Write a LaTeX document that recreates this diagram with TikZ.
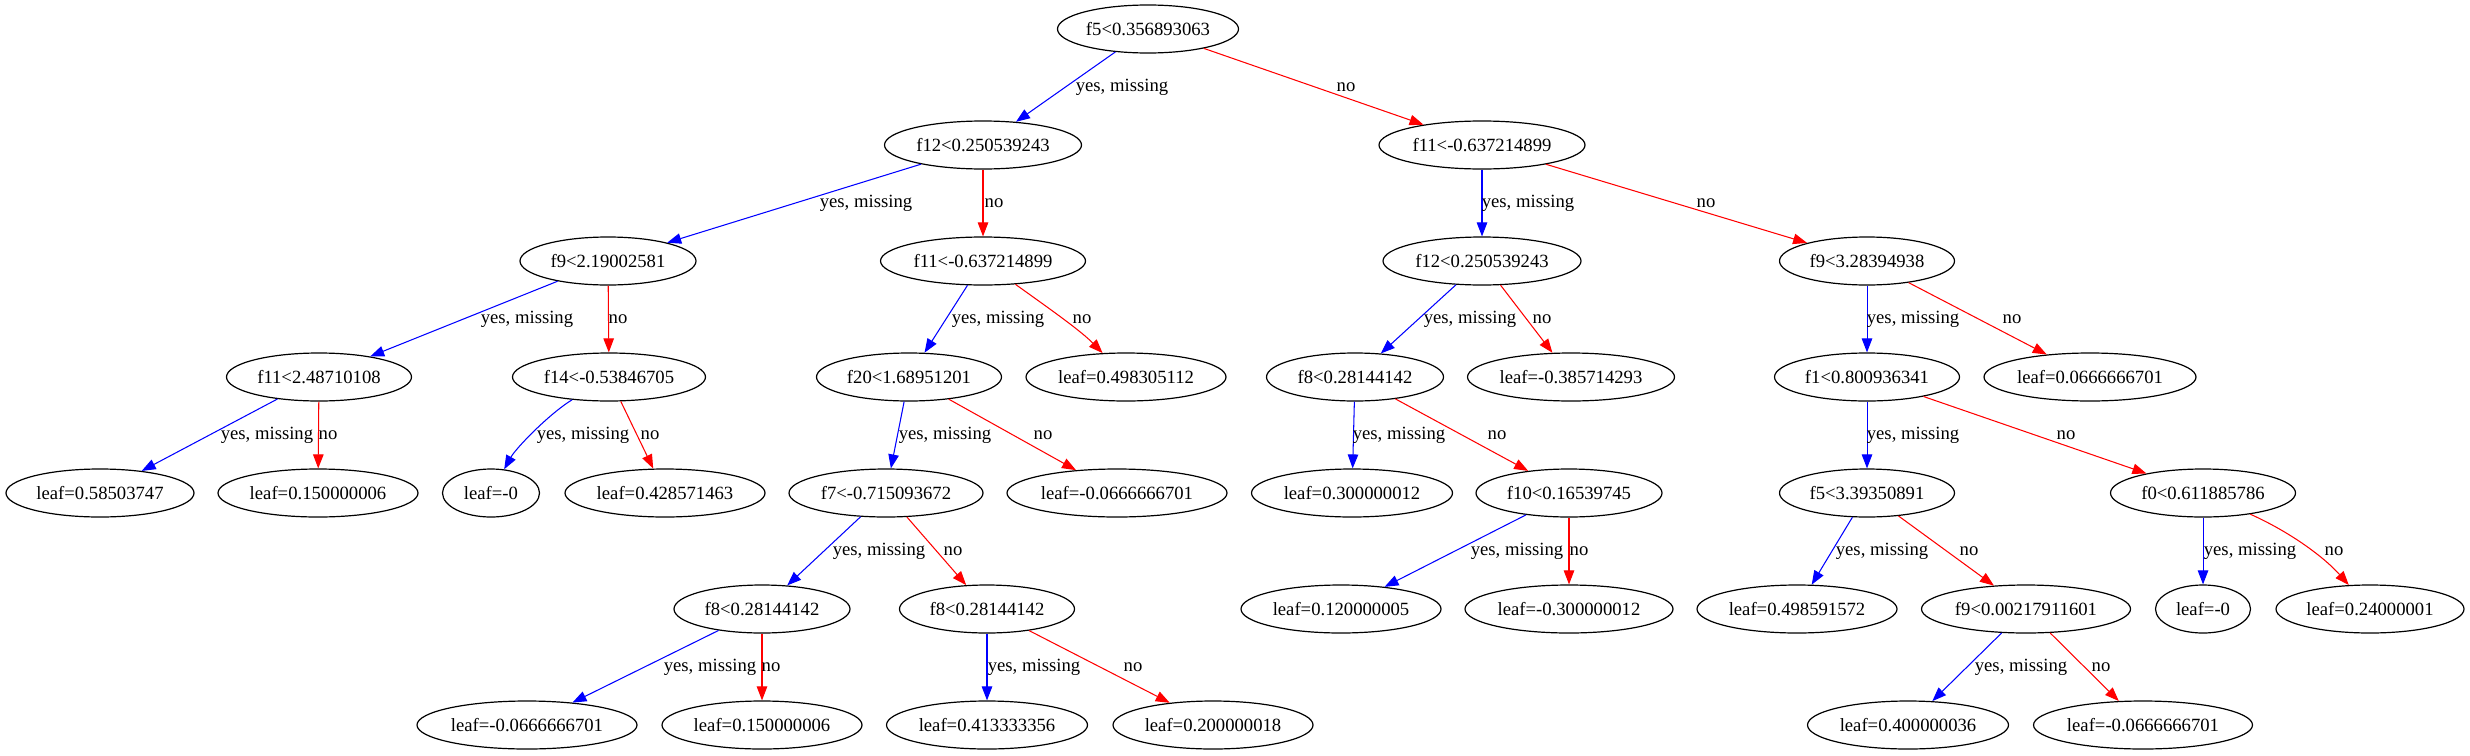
\documentclass[tikz,border=0pt]{standalone}
\usepackage{fontspec}
\setmainfont{Liberation Serif}
\usetikzlibrary{shapes.geometric,arrows.meta}
\tikzset{
  nd/.style={draw, ellipse, line width=1.2pt, minimum height=48pt, inner sep=0pt,
             font=\fontsize{18.67}{22}\selectfont},
  lbl/.style={inner sep=0pt, font=\fontsize{18.67}{22}\selectfont},
  edge/.style={line width=1.05pt, -{Triangle[length=14pt,width=10.5pt]}},
  yesedge/.style={edge, blue},
  noedge/.style={edge, red}
}
\begin{document}
\begin{tikzpicture}[x=1pt,y=-1pt]
\useasboundingbox (0,0) rectangle (2470,755);
% level 0
\node[nd, minimum width=181pt] (n0) at (1148,29) {f5<0.356893063};
% level 1
\node[nd, minimum width=197pt] (n1) at (983,145) {f12<0.250539243};
\node[nd, minimum width=206pt] (n2) at (1482,145) {f11<-0.637214899};
% level 2
\node[nd, minimum width=176pt] (n3) at (608,261) {f9<2.19002581};
\node[nd, minimum width=205pt] (n4) at (983,261) {f11<-0.637214899};
\node[nd, minimum width=198pt] (n5) at (1482,261) {f12<0.250539243};
\node[nd, minimum width=175pt] (n6) at (1867,261) {f9<3.28394938};
% level 3
\node[nd, minimum width=185pt] (n7) at (319,377) {f11<2.48710108};
\node[nd, minimum width=193pt] (n8) at (609,377) {f14<-0.53846705};
\node[nd, minimum width=185pt] (n9) at (909,377) {f20<1.68951201};
\node[nd, minimum width=200pt] (n10) at (1126,377) {leaf=0.498305112};
\node[nd, minimum width=177pt] (n11) at (1355,377) {f8<0.28144142};
\node[nd, minimum width=207pt] (n12) at (1571,377) {leaf=-0.385714293};
\node[nd, minimum width=185pt] (n13) at (1867,377) {f1<0.800936341};
\node[nd, minimum width=212pt] (n14) at (2090,377) {leaf=0.0666666701};
% level 4
\node[nd, minimum width=188pt] (n15) at (100,493) {leaf=0.58503747};
\node[nd, minimum width=200pt] (n16) at (318,493) {leaf=0.150000006};
\node[nd, minimum width=97pt] (n17) at (491,493) {leaf=-0};
\node[nd, minimum width=200pt] (n18) at (665,493) {leaf=0.428571463};
\node[nd, minimum width=194pt] (n19) at (886,493) {f7<-0.715093672};
\node[nd, minimum width=220pt] (n20) at (1117,493) {leaf=-0.0666666701};
\node[nd, minimum width=201pt] (n21) at (1352,493) {leaf=0.300000012};
\node[nd, minimum width=186pt] (n22) at (1569,493) {f10<0.16539745};
\node[nd, minimum width=175pt] (n23) at (1867,493) {f5<3.39350891};
\node[nd, minimum width=185pt] (n24) at (2203,493) {f0<0.611885786};
% level 5
\node[nd, minimum width=176pt] (n25) at (762,609) {f8<0.28144142};
\node[nd, minimum width=175pt] (n26) at (987,609) {f8<0.28144142};
\node[nd, minimum width=200pt] (n27) at (1341,609) {leaf=0.120000005};
\node[nd, minimum width=208pt] (n28) at (1569,609) {leaf=-0.300000012};
\node[nd, minimum width=200pt] (n29) at (1797,609) {leaf=0.498591572};
\node[nd, minimum width=209pt] (n30) at (2026,609) {f9<0.00217911601};
\node[nd, minimum width=95pt] (n31) at (2203,609) {leaf=-0};
\node[nd, minimum width=188pt] (n32) at (2370,609) {leaf=0.24000001};
% level 6
\node[nd, minimum width=220pt] (n33) at (527,725) {leaf=-0.0666666701};
\node[nd, minimum width=200pt] (n34) at (762,725) {leaf=0.150000006};
\node[nd, minimum width=201pt] (n35) at (987,725) {leaf=0.413333356};
\node[nd, minimum width=200pt] (n36) at (1213,725) {leaf=0.200000018};
\node[nd, minimum width=201pt] (n37) at (1908,725) {leaf=0.400000036};
\node[nd, minimum width=219pt] (n38) at (2143,725) {leaf=-0.0666666701};

% edges
\draw[yesedge] (n0) -- (n1);
\draw[noedge] (n0) -- (n2);
\draw[yesedge] (n1) -- (n3);
\draw[noedge] (n1) -- (n4);
\draw[yesedge] (n2) -- (n5);
\draw[noedge] (n2) -- (n6);
\draw[yesedge] (n3) -- (n7);
\draw[noedge] (n3) -- (n8);
\draw[yesedge] (n4) -- (n9);
\draw[noedge] (n4) .. controls (1047,307) and (1080,330) .. (n10);
\draw[yesedge] (n5) -- (n11);
\draw[noedge] (n5) -- (n12);
\draw[yesedge] (n6) -- (n13);
\draw[noedge] (n6) -- (n14);
\draw[yesedge] (n7) -- (n15);
\draw[noedge] (n7) -- (n16);
\draw[yesedge] (n8) .. controls (549,414) and (516,448) .. (n17);
\draw[noedge] (n8) -- (n18);
\draw[yesedge] (n9) -- (n19);
\draw[noedge] (n9) -- (n20);
\draw[yesedge] (n11) -- (n21);
\draw[noedge] (n11) -- (n22);
\draw[yesedge] (n13) -- (n23);
\draw[noedge] (n13) -- (n24);
\draw[yesedge] (n19) -- (n25);
\draw[noedge] (n19) -- (n26);
\draw[yesedge] (n22) -- (n27);
\draw[noedge] (n22) -- (n28);
\draw[yesedge] (n23) -- (n29);
\draw[noedge] (n23) -- (n30);
\draw[yesedge] (n24) -- (n31);
\draw[noedge] (n24) .. controls (2290,532) and (2324,557) .. (n32);
\draw[yesedge] (n25) -- (n33);
\draw[noedge] (n25) -- (n34);
\draw[yesedge] (n26) -- (n35);
\draw[noedge] (n26) -- (n36);
\draw[yesedge] (n30) -- (n37);
\draw[noedge] (n30) -- (n38);

% edge labels
\node[lbl] (l1) at (1122,87) {yes, missing};
\node[lbl] (l2) at (1346,87) {no};
\node[lbl] (l3) at (866,203) {yes, missing};
\node[lbl] (l4) at (994,203) {no};
\node[lbl] (l5) at (1528,203) {yes, missing};
\node[lbl] (l6) at (1706,203) {no};
\node[lbl] (l7) at (527,319) {yes, missing};
\node[lbl] (l8) at (618,319) {no};
\node[lbl] (l9) at (998,319) {yes, missing};
\node[lbl] (l10) at (1082,319) {no};
\node[lbl] (l11) at (1470,319) {yes, missing};
\node[lbl] (l12) at (1542,319) {no};
\node[lbl] (l13) at (1913,319) {yes, missing};
\node[lbl] (l14) at (2012,319) {no};
\node[lbl] (l15) at (267,435) {yes, missing};
\node[lbl] (l16) at (328,435) {no};
\node[lbl] (l17) at (583,435) {yes, missing};
\node[lbl] (l18) at (650,435) {no};
\node[lbl] (l19) at (945,435) {yes, missing};
\node[lbl] (l20) at (1043,435) {no};
\node[lbl] (l21) at (1399,435) {yes, missing};
\node[lbl] (l22) at (1497,435) {no};
\node[lbl] (l23) at (1913,435) {yes, missing};
\node[lbl] (l24) at (2066,435) {no};
\node[lbl] (l25) at (879,551) {yes, missing};
\node[lbl] (l26) at (953,551) {no};
\node[lbl] (l27) at (1517,551) {yes, missing};
\node[lbl] (l28) at (1579,551) {no};
\node[lbl] (l29) at (1882,551) {yes, missing};
\node[lbl] (l30) at (1969,551) {no};
\node[lbl] (l31) at (2250,551) {yes, missing};
\node[lbl] (l32) at (2334,551) {no};
\node[lbl] (l33) at (710,667) {yes, missing};
\node[lbl] (l34) at (771,667) {no};
\node[lbl] (l35) at (1034,667) {yes, missing};
\node[lbl] (l36) at (1133,667) {no};
\node[lbl] (l37) at (2021,667) {yes, missing};
\node[lbl] (l38) at (2101,667) {no};
\end{tikzpicture}
\end{document}
